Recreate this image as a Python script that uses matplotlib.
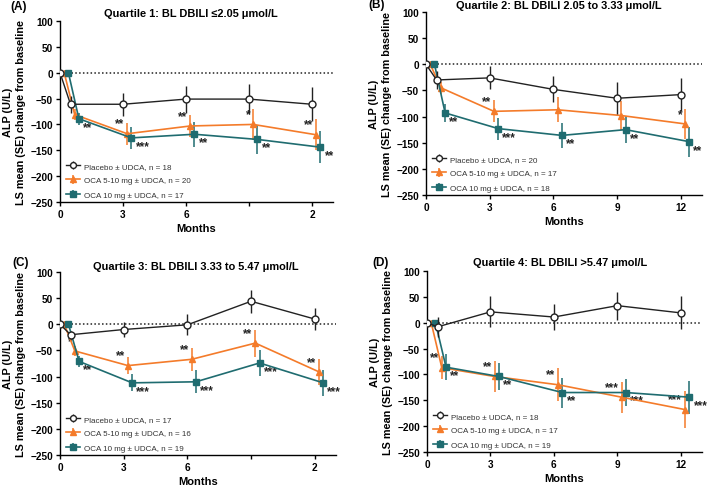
import matplotlib
matplotlib.use("Agg")
import matplotlib.pyplot as plt
import numpy as np

plt.rcParams['font.family'] = ['Liberation Sans', 'DejaVu Sans']

# ---------------- data ----------------
x_pbo = [0, 0.5, 3, 6, 9, 12]
x_oca510 = [0.2, 0.7, 3.2, 6.2, 9.2, 12.2]
x_oca10 = [0.4, 0.9, 3.4, 6.4, 9.4, 12.4]

panel_labels = ['(A)', '(B)', '(C)', '(D)']
titles = ['Quartile 1: BL DBILI \u22642.05 \u03bcmol/L',
          'Quartile 2: BL DBILI 2.05 to 3.33 \u03bcmol/L',
          'Quartile 3: BL DBILI 3.33 to 5.47 \u03bcmol/L',
          'Quartile 4: BL DBILI >5.47 \u03bcmol/L']
xtick_vals = [0, 3, 6, 9, 12]
xtick_labels = [['0', '3', '6', '', '2'],
                ['0', '3', '6', '9', '12'],
                ['0', '3', '6', '', '2'],
                ['0', '3', '6', '9', '12']]
ytick_vals = [100, 50, 0, -50, -100, -150, -200, -250]

n_pbo = [18, 20, 17, 18]
n_oca510 = [20, 17, 16, 17]
n_oca10 = [17, 18, 19, 19]

# Placebo
pbo_A = [0, -61, -61, -51, -51, -61]
pbo_A_se = [0, 16, 22, 26, 29, 33]
pbo_B = [0, -30, -26, -48, -65, -58]
pbo_B_se = [0, 18, 22, 25, 31, 32]
pbo_C = [0, -20, -10, -1, 44, 10]
pbo_C_se = [0, 8, 15, 20, 22, 21]
pbo_D = [0, -8, 21, 11, 33, 19]
pbo_D_se = [0, 20, 30, 26, 27, 32]

# OCA 5-10 mg
o510_A = [0, -81, -118, -103, -100, -120]
o510_A_se = [0, 10, 21, 22, 30, 30]
o510_B = [0, -45, -90, -87, -98, -114]
o510_B_se = [0, 12, 21, 24, 27, 28]
o510_C = [0, -51, -79, -67, -36, -91]
o510_C_se = [0, 10, 16, 22, 26, 25]
o510_D = [0, -87, -104, -120, -144, -168]
o510_D_se = [0, 22, 30, 32, 30, 35]

# OCA 10 mg
o10_A = [0, -89, -126, -119, -129, -144]
o10_A_se = [0, 12, 21, 24, 28, 31]
o10_B = [0, -93, -123, -136, -125, -148]
o10_B_se = [0, 18, 21, 24, 26, 29]
o10_C = [0, -71, -112, -110, -74, -112]
o10_C_se = [0, 11, 16, 22, 25, 25]
o10_D = [0, -86, -104, -135, -135, -144]
o10_D_se = [0, 25, 27, 29, 27, 32]

# significance labels
sig_o510_A = ['', '', '**', '**', '*', '**']
sig_o10_A = ['', '**', '***', '**', '**', '**']
sig_o510_B = ['', '', '**', '', '', '*']
sig_o10_B = ['', '**', '***', '**', '**', '**']
sig_o510_C = ['', '*', '**', '**', '**', '**']
sig_o10_C = ['', '**', '***', '***', '***', '***']
sig_o510_D = ['', '**', '**', '**', '***', '***']
sig_o10_D = ['', '**', '**', '**', '***', '***']

panels = [
    (pbo_A, pbo_A_se, o510_A, o510_A_se, o10_A, o10_A_se, sig_o510_A, sig_o10_A),
    (pbo_B, pbo_B_se, o510_B, o510_B_se, o10_B, o10_B_se, sig_o510_B, sig_o10_B),
    (pbo_C, pbo_C_se, o510_C, o510_C_se, o10_C, o10_C_se, sig_o510_C, sig_o10_C),
    (pbo_D, pbo_D_se, o510_D, o510_D_se, o10_D, o10_D_se, sig_o510_D, sig_o10_D),
]

ORANGE = '#F47B2A'
TEAL = '#1F6C70'
BLACK = '#222222'

W, H = 709, 489
fig = plt.figure(figsize=(W / 100, H / 100), dpi=100)
# axes boxes in pixels: left, top, right, bottom
boxes = [(60, 22, 333, 203), (426, 13, 702, 196), (60, 273, 336, 456), (427, 272, 702, 453)]
title_pos = [(191, 14), (559, 6), (196, 267), (560, 263)]
label_pos = [(10, 7), (368, 5), (12, 263), (372, 263)]

for i, (box, pdata) in enumerate(zip(boxes, panels)):
    l, t, r, b = box
    ax = fig.add_axes([l / W, 1 - b / H, (r - l) / W, (b - t) / H])
    pb, pbse, o5, o5se, o1, o1se, s5, s1 = pdata
    ax.axhline(0, color=BLACK, lw=1.1, ls=(0, (1, 1.5)), zorder=1)

    ax.errorbar(x_pbo, pb, yerr=pbse, color=BLACK, lw=1.0, elinewidth=1.0,
                marker='o', ms=5, mfc='white', mec=BLACK, mew=1.0, capsize=0,
                label=f'Placebo \u00b1 UDCA, n = {n_pbo[i]}', zorder=4)
    ax.errorbar(x_oca510, o5, yerr=o5se, color=ORANGE, lw=1.2, elinewidth=1.1,
                marker='^', ms=5, mfc=ORANGE, mec=ORANGE, capsize=0,
                label=f'OCA 5-10 mg \u00b1 UDCA, n = {n_oca510[i]}', zorder=3)
    ax.errorbar(x_oca10, o1, yerr=o1se, color=TEAL, lw=1.2, elinewidth=1.1,
                marker='s', ms=5, mfc=TEAL, mec=TEAL, capsize=0,
                label=f'OCA 10 mg \u00b1 UDCA, n = {n_oca10[i]}', zorder=3)

    for xv, yv, s in zip(x_oca510, o5, s5):
        if s:
            ax.annotate(s, (xv, yv), xytext=(-2, 3), textcoords='offset points',
                        ha='right', va='bottom', fontsize=8.5, fontweight='bold',
                        color=BLACK)
    for xv, yv, s in zip(x_oca10, o1, s1):
        if s:
            ax.annotate(s, (xv, yv), xytext=(3, -1.5), textcoords='offset points',
                        ha='left', va='top', fontsize=8.5, fontweight='bold',
                        color=BLACK)

    ax.set_xlim(0, 13)
    ax.set_ylim(-250, 100)
    ax.set_xticks(xtick_vals)
    ax.set_xticklabels(xtick_labels[i])
    ax.set_yticks(ytick_vals)
    ax.set_yticklabels([str(v).replace('-', '\u2212') for v in ytick_vals])
    for lab in ax.get_xticklabels() + ax.get_yticklabels():
        lab.set_fontweight('bold')
        lab.set_fontsize(7.2)
    ax.tick_params(direction='out', length=3, width=1, pad=2)
    for sp in ['top', 'right']:
        ax.spines[sp].set_visible(False)
    for sp in ['left', 'bottom']:
        ax.spines[sp].set_linewidth(1.0)

    ax.set_xlabel('Months', fontsize=8, fontweight='bold', labelpad=3)
    ax.set_ylabel('ALP (U/L)\nLS mean (SE) change from baseline', fontsize=7.8,
                  fontweight='bold', labelpad=3, linespacing=1.35)
    fig.text(title_pos[i][0] / W, 1 - title_pos[i][1] / H, titles[i],
             fontsize=7.9, fontweight='bold', ha='center', va='center')
    fig.text(label_pos[i][0] / W, 1 - label_pos[i][1] / H, panel_labels[i],
             fontsize=8.5, fontweight='bold', ha='left', va='center')

    leg = ax.legend(loc='lower left', bbox_to_anchor=(0.01, 0.0), frameon=False,
                    fontsize=5.8, handlelength=1.75, handletextpad=0.5,
                    labelspacing=0.85, borderaxespad=0.2, borderpad=0.2,
                    markerscale=0.85)
    for tx in leg.get_texts():
        tx.set_color('#333333')

fig.savefig('out.png', dpi=100)
